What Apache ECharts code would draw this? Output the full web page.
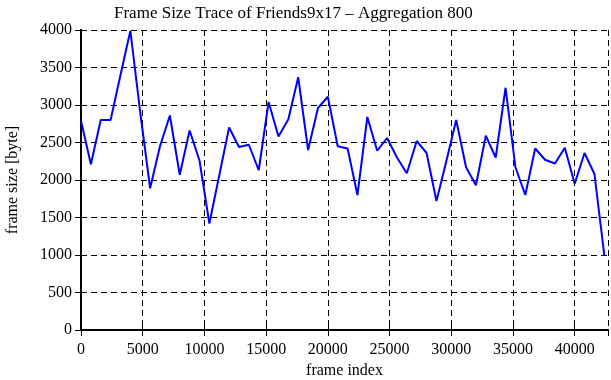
<!DOCTYPE html>
<html>
<head>
    <meta charset="utf-8">
    <title>Frame Size Trace</title>
    <script src="https://cdn.jsdelivr.net/npm/echarts@6/dist/echarts.min.js"></script>
    <style>
        html, body { margin: 0; padding: 0; background: #fff; }
    </style>
</head>
<body>
<div id="chartmain" style="width:611px; height:380px;"></div>
<script>
    // aggregation step (frames per point)
    var aggStep = 800;
    // frame size per aggregated point [byte]
    var frameSize = [2790, 2210, 2800, 2800, 3400, 3990, 2900, 1890, 2450, 2860,
        2070, 2660, 2260, 1420, 2060, 2700, 2440, 2470, 2130, 3040,
        2580, 2810, 3370, 2400, 2960, 3110, 2450, 2420, 1800, 2840,
        2390, 2560, 2300, 2090, 2520, 2360, 1720, 2250, 2800, 2170,
        1930, 2590, 2300, 3230, 2170, 1800, 2420, 2270, 2220, 2430,
        1950, 2360, 2080, 1000];
    var xTicks = [0, 5000, 10000, 15000, 20000, 25000, 30000, 35000, 40000];
    var yTicks = [0, 500, 1000, 1500, 2000, 2500, 3000, 3500, 4000];

    var points = [];
    for (var i = 0; i < frameSize.length; i++) {
        points.push([i * aggStep, frameSize[i]]);
    }

    var font = 'Liberation Serif';
    var dashed = {show: true, lineStyle: {color: '#000', width: 1, type: [6, 4]}};
    var frame = {show: true, lineStyle: {color: '#000', width: 2}};
    var tick = {show: true, inside: true, length: 6, lineStyle: {color: '#000', width: 1}};

    var myChart = echarts.init(document.getElementById('chartmain'));
    var option = {
        animation: false,
        title: {
            text: 'Frame Size Trace of Friends9x17 \u2013 Aggregation 800',
            left: 109,
            top: 0,
            textStyle: {fontFamily: font, fontSize: 17, fontWeight: 'normal', color: '#000'}
        },
        grid: {left: 81, right: 3, top: 30, bottom: 50, containLabel: false, outerBoundsMode: 'none'},
        xAxis: [{
            type: 'value',
            min: 0,
            max: 42700,
            interval: 5000,
            name: 'frame index',
            nameLocation: 'middle',
            nameGap: 32,
            nameTextStyle: {fontFamily: font, fontSize: 16, color: '#000'},
            axisLine: frame,
            axisTick: tick,
            splitLine: dashed,
            axisLabel: {
                fontFamily: font, fontSize: 16, color: '#000', margin: 12,
                showMaxLabel: false,
                formatter: function (v) { return xTicks.indexOf(v) >= 0 ? String(v) : ''; }
            }
        }, {
            type: 'value',
            position: 'top',
            min: 0,
            max: 42700,
            interval: 5000,
            axisLine: frame,
            axisTick: tick,
            axisLabel: {show: false},
            splitLine: {show: false}
        }],
        yAxis: [{
            type: 'value',
            min: 0,
            max: 4000,
            interval: 500,
            name: 'frame size [byte]',
            nameLocation: 'middle',
            nameGap: 60,
            nameTextStyle: {fontFamily: font, fontSize: 16, color: '#000'},
            axisLine: frame,
            axisTick: tick,
            splitLine: dashed,
            axisLabel: {
                fontFamily: font, fontSize: 16, color: '#000', margin: 9,
                formatter: function (v) { return yTicks.indexOf(v) >= 0 ? String(v) : ''; }
            }
        }, {
            type: 'value',
            position: 'right',
            min: 0,
            max: 4000,
            interval: 500,
            axisLine: frame,
            axisTick: tick,
            axisLabel: {show: false},
            splitLine: {show: false}
        }],
        series: [{
            name: 'frame size',
            type: 'line',
            data: points,
            showSymbol: false,
            symbol: 'none',
            lineStyle: {color: '#0000ff', width: 2},
            z: 3
        }]
    };
    myChart.setOption(option);
</script>
</body>
</html>
